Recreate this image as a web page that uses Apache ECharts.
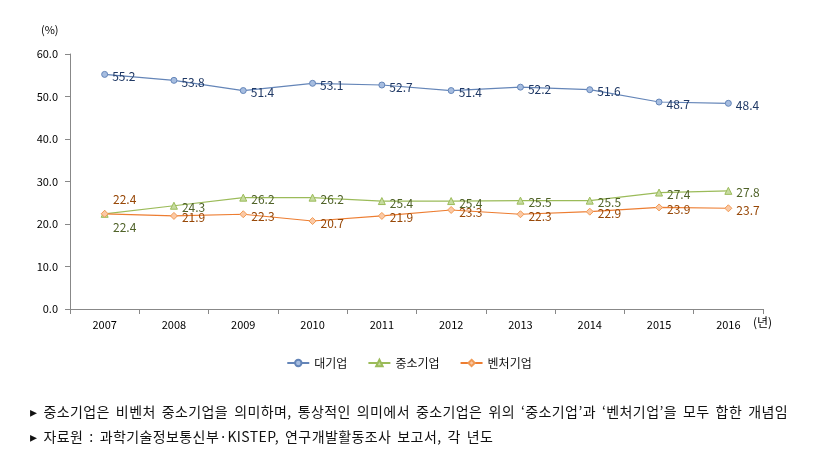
<!DOCTYPE html>
<html><head><meta charset="utf-8">
<script src="https://cdn.jsdelivr.net/npm/echarts@6/dist/echarts.min.js"></script>
<style>
html,body{margin:0;padding:0;background:#fff;}
#c{width:818px;height:460px;position:relative;}
.note{position:absolute;left:30px;font-family:"Noto Sans CJK KR",sans-serif;font-size:14px;color:#111;letter-spacing:0.4px;word-spacing:2.5px;white-space:nowrap;}
</style></head>
<body>
<div id="c"></div>
<div class="note" style="top:401px;">▸ 중소기업은 비벤처 중소기업을 의미하며, 통상적인 의미에서 중소기업은 위의 ‘중소기업’과 ‘벤처기업’을 모두 합한 개념임</div>
<div class="note" style="top:426px;">▸ 자료원 : 과학기술정보통신부·KISTEP, 연구개발활동조사 보고서, 각 년도</div>
<script>
const years = ['2007','2008','2009','2010','2011','2012','2013','2014','2015','2016'];
const large = [55.2,53.8,51.4,53.1,52.7,51.4,52.2,51.6,48.7,48.4];
const sme = [22.4,24.3,26.2,26.2,25.4,25.4,25.5,25.5,27.4,27.8];
const venture = [22.4,21.9,22.3,20.7,21.9,23.3,22.3,22.9,23.9,23.7];
const names = ['대기업','중소기업','벤처기업'];
const yUnit = '(%)';
const xUnit = '(년)';

const chart = echarts.init(document.getElementById('c'));
const font = '"Noto Sans CJK KR", sans-serif';
function lbl(color){return {show:true,position:'right',distance:4,offset:[0,2],color:color,fontSize:12,fontFamily:font,formatter:p=>p.value.toFixed(1)};}
chart.setOption({
  animation:false,
  grid:{left:70,right:55,top:54,bottom:151},
  graphic:[
    {type:'text',left:41,top:24,style:{text:yUnit,fill:'#000',font:'11px '+font}},
    {type:'text',left:753,top:316,style:{text:xUnit,fill:'#000',font:'12px '+font}}
  ],
  legend:{bottom:86,left:'center',itemWidth:22,itemHeight:8,itemGap:20,
    textStyle:{fontFamily:font,fontSize:12,color:'#111'},data:names},
  xAxis:{type:'category',data:years,boundaryGap:true,
    axisLine:{lineStyle:{color:'#888'}},
    axisTick:{show:true,length:5,lineStyle:{color:'#888'}},
    axisLabel:{color:'#000',fontSize:11,fontFamily:font,margin:10}},
  yAxis:{type:'value',min:0,max:60,interval:10,
    axisLine:{show:true,lineStyle:{color:'#888'}},
    axisTick:{show:true,length:5,lineStyle:{color:'#888'}},
    splitLine:{show:false},
    axisLabel:{color:'#000',fontSize:11,fontFamily:font,margin:12,formatter:v=>v.toFixed(1)}},
  series:[
    {name:names[0],type:'line',data:large,symbol:'circle',symbolSize:6,
      lineStyle:{color:'#6485b8',width:1.2},itemStyle:{color:'#a6bde0',borderColor:'#6485b8',borderWidth:1},
      label:lbl('#1f3864')},
    {name:names[1],type:'line',data:sme.map((v,i)=>i===0?{value:v,label:{position:'bottom',offset:[20,0]}}:v),symbol:'triangle',symbolSize:7,
      lineStyle:{color:'#9bbb59',width:1.2},itemStyle:{color:'#c6dba0',borderColor:'#9bbb59',borderWidth:1},
      label:lbl('#4f6228')},
    {name:names[2],type:'line',data:venture.map((v,i)=>i===0?{value:v,label:{position:'top',offset:[20,0]}}:v),symbol:'diamond',symbolSize:7,
      lineStyle:{color:'#ed7d31',width:1.2},itemStyle:{color:'#fbc9a5',borderColor:'#f09a55',borderWidth:1},
      label:lbl('#974706')}
  ]
});
</script>
</body></html>
